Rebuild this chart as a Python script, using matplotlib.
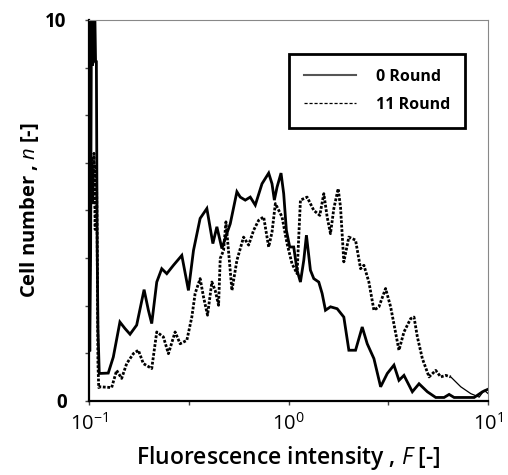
import numpy as np
import matplotlib.pyplot as plt
from matplotlib.lines import Line2D

plt.rcParams['font.family'] = ['Open Sans', 'DejaVu Sans']
plt.rcParams['mathtext.fontset'] = 'custom'
plt.rcParams['mathtext.rm'] = 'Open Sans'
plt.rcParams['mathtext.it'] = 'Open Sans:italic'
plt.rcParams['mathtext.bf'] = 'Open Sans:bold'

# 0 Round (solid)
f0 = [0.1000, 0.1010, 0.1020, 0.1030, 0.1040, 0.1050, 0.1060, 0.1070, 0.1080,
      0.1090, 0.1100, 0.1110, 0.1127, 0.125, 0.1325, 0.143, 0.1516, 0.1607,
      0.1735, 0.189, 0.1986, 0.2064, 0.2187, 0.2317, 0.2455, 0.2651, 0.2920,
      0.3152, 0.3341, 0.3607, 0.3898, 0.4178, 0.4375, 0.4636, 0.4875, 0.5105,
      0.5512, 0.5729, 0.6070, 0.6431, 0.6813, 0.7362, 0.7953, 0.8264, 0.8490,
      0.8756, 0.9169, 0.9456, 0.9752, 1.0137, 1.0615, 1.1033, 1.1469, 1.192,
      1.229, 1.287, 1.338, 1.417, 1.473, 1.531, 1.622, 1.752, 1.892, 2.005,
      2.166, 2.339, 2.478, 2.677, 2.892, 3.123, 3.373, 3.573, 3.786, 4.170,
      4.504, 4.958, 5.461, 6.013, 6.372, 6.751, 8.508, 9.365, 9.924]
n0 = [3.9, 1.3, 3.9, 10.3, 8.8, 10.3, 8.9, 10.3, 8.9,
      8.9, 4.1, 1.9, 0.72, 0.73, 1.15, 2.07, 1.90, 1.75,
      1.99, 2.92, 2.38, 2.03, 3.12, 3.47, 3.34, 3.56, 3.82,
      2.90, 3.95, 4.79, 5.05, 4.13, 4.57, 4.00, 4.35, 4.65,
      5.49, 5.35, 5.27, 5.35, 5.14, 5.70, 5.98, 5.70, 5.27,
      5.61, 5.98, 5.44, 4.48, 4.04, 4.04, 3.43, 3.12, 3.69,
      4.35, 3.43, 3.21, 3.12, 2.82, 2.38, 2.47, 2.42, 2.20, 1.33,
      1.33, 1.94, 1.50, 1.11, 0.37, 0.72, 0.94, 0.54, 0.67, 0.24,
      0.45, 0.24, 0.09, 0.09, 0.17, 0.09, 0.09, 0.24, 0.30]

# 11 Round (dotted)
f11 = [0.1000, 0.1030, 0.1045, 0.1060, 0.1075, 0.1090, 0.1100, 0.1110, 0.1120,
       0.1136, 0.130, 0.1377, 0.1459, 0.1546, 0.1670, 0.1769, 0.1874, 0.2064,
       0.2187, 0.2361, 0.2502, 0.2703, 0.2864, 0.3094, 0.3277, 0.3405, 0.3607,
       0.3750, 0.3928, 0.4130, 0.4292, 0.4462, 0.4548, 0.4727, 0.4858, 0.5009,
       0.5206, 0.5512, 0.5954, 0.6310, 0.6686, 0.7083, 0.7504, 0.7953, 0.8264,
       0.8590, 0.9277, 0.9829, 1.041, 1.1033, 1.1469, 1.239, 1.338, 1.434,
       1.502, 1.561, 1.622, 1.686, 1.772, 1.821, 1.892, 2.005, 2.166, 2.295,
       2.385, 2.526, 2.677, 2.836, 3.063, 3.246, 3.573, 3.786, 4.090, 4.251,
       4.418, 4.680, 5.056, 5.461, 5.784, 6.128, 6.494, 7.290, 8.185, 9.013,
       9.548, 10.0]
n11 = [2.0, 6.4, 5.2, 6.5, 4.5, 6.2, 4.3, 1.0, 0.35,
       0.37, 0.35, 0.80, 0.59, 0.98, 1.24, 1.33, 0.98, 0.85,
       1.81, 1.68, 1.24, 1.81, 1.50, 1.59, 2.20, 2.82, 3.21,
       2.73, 2.25, 3.12, 2.90, 2.51, 3.74, 3.95, 4.70, 3.91,
       2.90, 3.69, 4.30, 4.09, 4.48, 4.74, 4.83, 4.04, 4.43,
       5.18, 4.83, 4.13, 3.60, 3.34, 5.27, 5.35, 5.00, 4.87,
       5.44, 4.83, 4.39, 5.05, 5.57, 5.09, 3.65, 4.30, 4.22, 3.47,
       3.56, 3.12, 2.38, 2.47, 2.95, 2.47, 1.33, 1.81, 2.16, 2.20,
       1.68, 1.11, 0.63, 0.80, 0.63, 0.67, 0.63, 0.37, 0.19, 0.10,
       0.28, 0.19]

f11 = np.array(f11)
n11 = np.array(n11)
head = f11 <= 6.5
tail = f11 >= 6.494

fig = plt.figure(figsize=(5.08, 4.75), dpi=100)
ax = fig.add_axes([0.175, 0.156, 0.786, 0.802])

ax.plot(f0, n0, color='black', lw=2.0, solid_joinstyle='miter')
ax.plot(f11[head], n11[head], color='black', lw=2.0, linestyle=(0, (1, 0.6)))
ax.plot(f11[tail], n11[tail], color='black', lw=0.9)

ax.set_xscale('log')
ax.set_xlim(0.1, 10)
ax.set_ylim(0, 10)

ax.set_xticks([0.1, 10 ** -0.5, 1, 10 ** 0.5, 10])
ax.set_xticklabels([r'$\mathregular{10^{-1}}$', '', r'$\mathregular{10^{0}}$', '',
                    r'$\mathregular{10^{1}}$'], fontsize=14.5)
ax.xaxis.set_minor_locator(plt.NullLocator())
ax.set_yticks(np.arange(0, 10.01, 1.25))
ax.set_yticklabels(['0', '', '', '', '', '', '', '', '10'], fontsize=13.5,
                   fontweight='bold')
ax.tick_params(direction='out', length=3, width=1, color='#444444')
ax.tick_params(axis='y', pad=13)
ax.tick_params(axis='x', pad=6)

for s in ['left', 'bottom']:
    ax.spines[s].set_linewidth(1.6)
    ax.spines[s].set_color('black')
for s in ['top', 'right']:
    ax.spines[s].set_linewidth(0.8)
    ax.spines[s].set_color('#888888')

ax.set_xlabel(r'Fluorescence intensity , $\mathit{F}$ [-]', fontsize=16.5,
              fontweight='semibold', labelpad=6)
ax.set_ylabel(r'Cell number , $\mathit{n}$ [-]', fontsize=14.5,
              fontweight='bold', labelpad=3)

handles = [Line2D([], [], color='#555555', lw=1.5),
           Line2D([], [], color='black', lw=0.9, linestyle=(0, (2.5, 1.5)))]
leg = ax.legend(handles, ['0 Round', '11 Round'], loc='upper right',
                bbox_to_anchor=(0.962, 0.932), fancybox=False, framealpha=1,
                edgecolor='black', handlelength=3.3, handletextpad=1.2,
                borderpad=0.95, labelspacing=0.75,
                prop={'family': 'Open Sans', 'weight': 'bold', 'size': 11.5})
leg.get_frame().set_linewidth(2)

fig.savefig('out.png', dpi=100)
